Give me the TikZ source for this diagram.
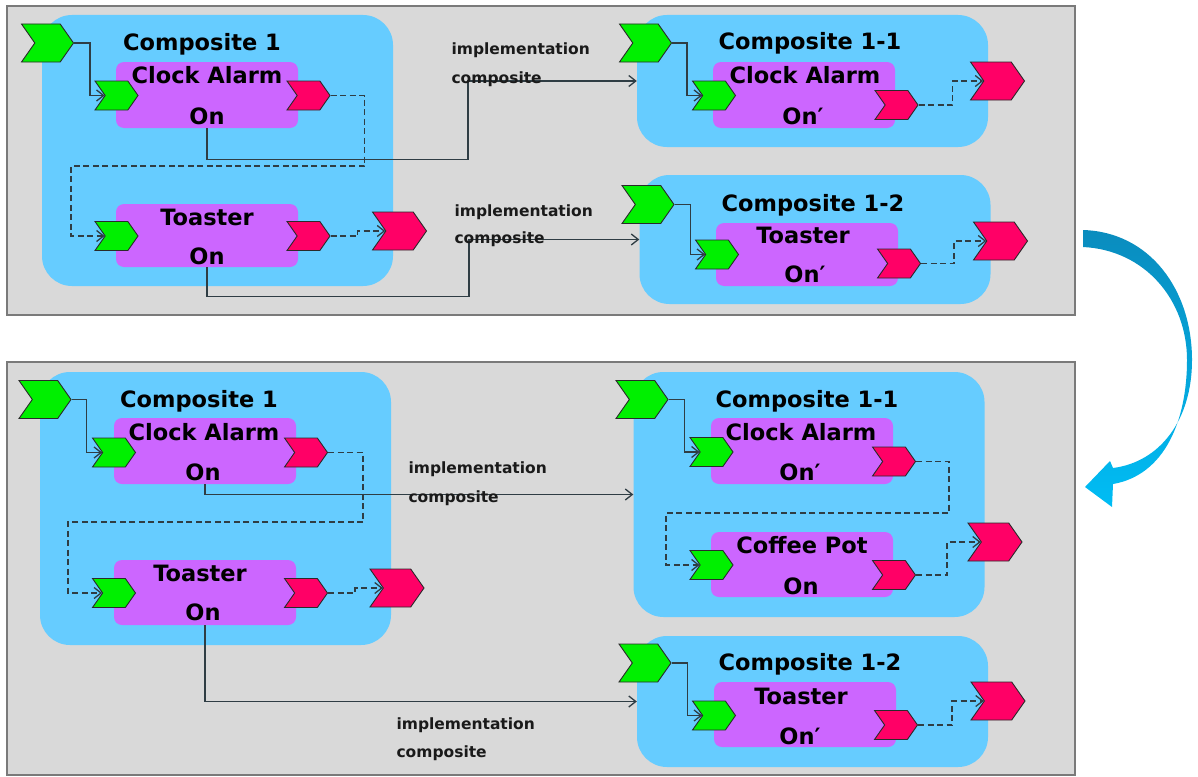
\documentclass[tikz,border=0pt]{standalone}
\usepackage{fontspec}
\setmainfont{DejaVu Sans}
\usetikzlibrary{shapes.symbols,arrows.meta}
\definecolor{panelgray}{HTML}{D9D9D9}
\definecolor{panelline}{HTML}{7A7A7A}
\definecolor{compblue}{HTML}{66CCFF}
\definecolor{partpurple}{HTML}{CC66FF}
\definecolor{portgreen}{HTML}{00F000}
\definecolor{portred}{HTML}{FF0066}
\definecolor{chevline}{HTML}{2A2A2A}
\definecolor{wirec}{HTML}{2F3D44}
\definecolor{impltext}{HTML}{1A1A1A}
\definecolor{flowtop}{HTML}{0A8CBE}
\definecolor{flowbot}{HTML}{00BDF5}
\begin{document}
\begin{tikzpicture}[x=1pt,y=-1pt,
  panel/.style={draw=panelline,fill=panelgray,line width=2pt},
  comp/.style={fill=compblue,rounded corners=30pt,inner sep=0pt,minimum width=351pt},
  part/.style={fill=partpurple,rounded corners=8pt,inner sep=0pt,minimum width=182pt},
  chev/.style={shape=signal,signal from=west,signal to=east,signal pointer angle=110,
    draw=chevline,line width=0.9pt,inner sep=0pt},
  inport/.style={chev,fill=portgreen,minimum width=43pt,minimum height=29pt},
  outport/.style={chev,fill=portred,minimum width=43pt,minimum height=29pt},
  bigin/.style={chev,fill=portgreen,minimum width=52pt,minimum height=38pt},
  bigout/.style={chev,fill=portred,minimum width=54pt,minimum height=38pt},
  comptitle/.style={font=\bfseries\fontsize{22.5}{26}\selectfont,anchor=base},
  wire/.style={draw=wirec,line width=1.3pt,-{Straight Barb[length=7pt,width=11pt]}},
  dashwire/.style={wire,dash pattern=on 6pt off 3.5pt},
  impl/.style={font=\bfseries\fontsize{15.5}{18}\selectfont,anchor=base west,text=impltext}]
\useasboundingbox (0,0) rectangle (1198,776);

\draw[panel] (7,6) rectangle (1075,315);
\draw[panel] (7,362) rectangle (1075,775);

\shade[top color=flowtop,bottom color=flowbot]
  (1083,230) .. controls (1150,232) and (1192,290) .. (1192,360)
  .. controls (1192,420) and (1160,462) .. (1113,468) -- (1110,461) -- (1085,487)
  -- (1112,507) -- (1113,484) .. controls (1165,475) and (1187,420) .. (1187,360)
  .. controls (1187,300) and (1145,250) .. (1083,247) -- cycle;

% before
\node[comp,minimum height=271pt] (tc1) at (217.5,150.5) {};
\node[comp,minimum height=132pt] (tc11) at (812.5,81) {};
\node[comp,minimum height=129pt] (tc12) at (815,239.5) {};
\node[part,minimum height=66pt] (tca) at (207,95) {};
\node[part,minimum height=63pt] (tto) at (207,235.5) {};
\node[part,minimum height=66pt] (tc11ca) at (804,95) {};
\node[part,minimum height=63pt] (tc12to) at (807,254.5) {};

\node[bigin] (tc1in) at (47.5,43) {};
\node[inport] (tcain) at (116.5,95.5) {};
\node[outport] (tcaout) at (308.5,95.5) {};
\node[inport] (ttoin) at (116.5,236) {};
\node[outport] (ttoout) at (308.5,236) {};
\node[bigout] (tc1out) at (399.5,231) {};
\node[bigin] (tc11in) at (645.5,43) {};
\node[inport] (tc11cain) at (714,95.5) {};
\node[outport] (tc11caout) at (896.5,105) {};
\node[bigout] (tc11out) at (997.5,81) {};
\node[bigin] (tc12in) at (648,204.5) {};
\node[inport] (tc12toin) at (717,254.5) {};
\node[outport] (tc12toout) at (899,263.5) {};
\node[bigout] (tc12out) at (1000.5,241) {};

\draw[wire] (tc1in.east) -- ++(16,0) |- (tcain.west);
\draw[dashwire] (tcaout.east) -- ++(34,0) |- (71,166) |- (ttoin.west);
\draw[dashwire] (ttoout.east) -- ++(27,0) |- (tc1out.west);
\draw[wire] (tca.south) |- ++(261,31) |- (tc11.west);
\draw[wire] (tto.south) |- ++(262,29) |- (tc12.west);
\draw[wire] (tc11in.east) -- ++(15,0) |- (tc11cain.west);
\draw[dashwire] (tc11caout.east) -- ++(34,0) |- (tc11out.west);
\draw[wire] (tc12in.east) -- ++(16,0) |- (tc12toin.west);
\draw[dashwire] (tc12toout.east) -- ++(33,0) |- (tc12out.west);

\node[comptitle] (tc1t) at (202,51) {Composite 1};
\node[comptitle] (tc11t) at (810,50) {Composite 1-1};
\node[comptitle] (tc12t) at (813,211) {Composite 1-2};
\node[comptitle] (tcat) at (207,83) {Clock Alarm};
\node[comptitle] (tcas) at (207,124) {On};
\node[comptitle] (ttot) at (207,225) {Toaster};
\node[comptitle] (ttos) at (207,264) {On};
\node[comptitle] (tc11cat) at (805,83) {Clock Alarm};
\node[comptitle] (tc11cas) at (803,124) {On′};
\node[comptitle] (tc12tot) at (803,243) {Toaster};
\node[comptitle] (tc12tos) at (805,282) {On′};
\node[impl] (timpl1) at (448,55) {implementation};
\node[impl] (tcomp1) at (448,83) {composite};
\node[impl] (timpl2) at (451,216) {implementation};
\node[impl] (tcomp2) at (451,243) {composite};

% after
\node[comp,minimum height=273pt] (bc1) at (215.5,508.5) {};
\node[comp,minimum height=245pt] (bc11) at (809,494.5) {};
\node[comp,minimum height=131pt] (bc12) at (812.5,701.5) {};
\node[part,minimum height=66pt] (bca) at (205,451) {};
\node[part,minimum height=65pt] (bto) at (205,592.5) {};
\node[part,minimum height=66pt] (bc11ca) at (802,451) {};
\node[part,minimum height=65pt] (bc11cp) at (802,564.5) {};
\node[part,minimum height=65pt] (bc12to) at (805,714.5) {};

\node[bigin] (bc1in) at (45,399.5) {};
\node[inport] (bcain) at (114,452.5) {};
\node[outport] (bcaout) at (306,452.5) {};
\node[inport] (btoin) at (114,593) {};
\node[outport] (btoout) at (306,593) {};
\node[bigout] (bc1out) at (397,588) {};
\node[bigin] (bc11in) at (642,399.5) {};
\node[inport] (bc11cain) at (711.5,452) {};
\node[outport] (bc11caout) at (894,461.5) {};
\node[inport] (bcpin) at (711.5,565) {};
\node[outport] (bcpout) at (894,575) {};
\node[bigout] (bc11out) at (995,542) {};
\node[bigin] (bc12in) at (645,663) {};
\node[inport] (bc12toin) at (714,715.5) {};
\node[outport] (bc12toout) at (896,725) {};
\node[bigout] (bc12out) at (998,701) {};

\draw[wire] (bc1in.east) -- ++(15,0) |- (bcain.west);
\draw[dashwire] (bcaout.east) -- ++(35,0) |- (68,522) |- (btoin.west);
\draw[dashwire] (btoout.east) -- ++(27,0) |- (bc1out.west);
\draw[wire] (bca.south) |- (bc11.west);
\draw[wire] (bto.south) |- (bc12.west);
\draw[wire] (bc11in.east) -- ++(16,0) |- (bc11cain.west);
\draw[dashwire] (bc11caout.east) -- ++(33,0) |- (666,513) |- (bcpin.west);
\draw[dashwire] (bcpout.east) -- ++(31,0) |- (bc11out.west);
\draw[wire] (bc12in.east) -- ++(16,0) |- (bc12toin.west);
\draw[dashwire] (bc12toout.east) -- ++(34,0) |- (bc12out.west);

\node[comptitle] (bc1t) at (199,407) {Composite 1};
\node[comptitle] (bc11t) at (807,407) {Composite 1-1};
\node[comptitle] (bc12t) at (810,670) {Composite 1-2};
\node[comptitle] (bcat) at (204,440) {Clock Alarm};
\node[comptitle] (bcas) at (203,480) {On};
\node[comptitle] (btot) at (200,581) {Toaster};
\node[comptitle] (btos) at (203,620) {On};
\node[comptitle] (bc11cat) at (801,440) {Clock Alarm};
\node[comptitle] (bc11cas) at (800,480) {On′};
\node[comptitle] (bcpt) at (802,553) {Coffee Pot};
\node[comptitle] (bcps) at (801,594) {On};
\node[comptitle] (bc12tot) at (801,704) {Toaster};
\node[comptitle] (bc12tos) at (800,744) {On′};
\node[impl] (bimpl1) at (405,473) {implementation};
\node[impl] (bcomp1) at (405,502) {composite};
\node[impl] (bimpl2) at (393,729) {implementation};
\node[impl] (bcomp2) at (393,757) {composite};
\end{tikzpicture}
\end{document}
